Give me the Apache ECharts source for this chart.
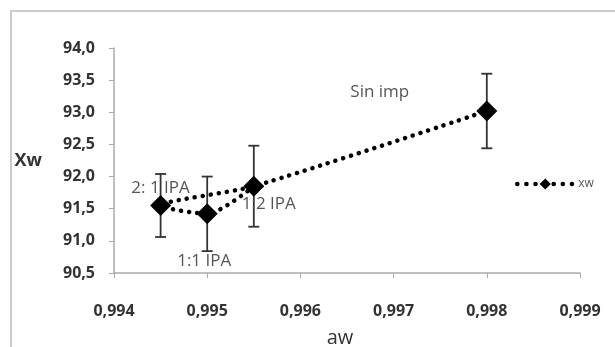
<!DOCTYPE html>
<html>
<head>
<meta charset="utf-8">
<script src="https://cdn.jsdelivr.net/npm/echarts@6/dist/echarts.min.js"></script>
<style>
  html, body { margin: 0; padding: 0; background: #fff; }
  #chart { width: 615px; height: 347px; }
</style>
</head>
<body>
<div id="chart"></div>
<script>
// data
const aw = [0.9945, 0.995, 0.9955, 0.998];
const xw = [91.55, 91.42, 91.85, 93.02];
const xwErr = [0.49, 0.58, 0.63, 0.58];
const pointLabels = ['2: 1 IPA', '1:1 IPA', '1:2 IPA', 'Sin imp'];
const labelOffsets = [[0, -17], [-3, 47], [15, 18], [-107, -19]];
// order the dotted line walks through the points
const pathOrder = [2, 1, 0, 2, 3];
const yTicks = ['90,5', '91,0', '91,5', '92,0', '92,5', '93,0', '93,5', '94,0'];

const chart = echarts.init(document.getElementById('chart'));

const font = 'Open Sans, "DejaVu Sans", sans-serif';
const dotted = { color: '#000', width: 4.5, type: [0.1, 8], cap: 'round' };

chart.setOption({
  animation: false,
  backgroundColor: '#fff',
  graphic: [{
    type: 'rect',
    shape: { x: 11, y: 11, width: 640, height: 360 },
    style: { fill: 'none', stroke: '#bbb', lineWidth: 1.5 },
    silent: true
  }],
  grid: { left: 114, top: 48, right: 35, bottom: 74, outerBoundsMode: 'none' },
  legend: {
    left: 510, top: 173,
    itemWidth: 56, itemHeight: 14, itemGap: 4,
    textStyle: { fontFamily: font, fontSize: 12, color: '#555' },
    data: [{ name: 'xw', lineStyle: Object.assign({ opacity: 1 }, dotted, { type: [0.1, 9] }) }]
  },
  xAxis: {
    type: 'value', min: 0.994, max: 0.999, interval: 0.001,
    name: 'aw', nameLocation: 'middle', nameGap: 55,
    nameTextStyle: { fontFamily: font, fontSize: 20, color: '#333', padding: [0, 14, 0, 0] },
    splitLine: { show: false },
    axisLine: { lineStyle: { color: '#aaa', width: 1.5 } },
    axisTick: { show: true, length: 5, lineStyle: { color: '#aaa' } },
    axisLabel: {
      margin: 30, fontFamily: font, fontSize: 16, fontWeight: 'bold', color: '#333',
      formatter: v => v.toFixed(3).replace('.', ',')
    }
  },
  yAxis: {
    type: 'value', min: 90.5, max: 94, interval: 0.5,
    name: 'Xw', nameLocation: 'middle', nameGap: 72, nameRotate: 0,
    nameTextStyle: { fontFamily: font, fontSize: 18, fontWeight: 'bold', color: '#333', padding: [6, 0, 0, 0] },
    splitLine: { show: false },
    axisLine: { show: true, lineStyle: { color: '#aaa', width: 1.5 } },
    axisTick: { show: true, length: 5, lineStyle: { color: '#aaa' } },
    axisLabel: {
      margin: 19, fontFamily: font, fontSize: 16, fontWeight: 'bold', color: '#333',
      formatter: v => yTicks[Math.round((v - 90.5) / 0.5)]
    }
  },
  series: [
    {
      name: 'xw-path',
      type: 'line',
      data: pathOrder.map(i => [aw[i], xw[i]]),
      showSymbol: false,
      smooth: 0.25,
      lineStyle: dotted,
      silent: true,
      z: 2
    },
    {
      name: 'xw',
      type: 'line',
      data: aw.map((a, i) => ({
        value: [a, xw[i]],
        label: {
          show: true, formatter: pointLabels[i], position: 'inside',
          offset: labelOffsets[i], fontFamily: font, fontSize: 17, color: '#555'
        }
      })),
      symbol: 'diamond',
      symbolSize: [21, 21],
      itemStyle: { color: '#000' },
      lineStyle: Object.assign({}, dotted, { opacity: 0 }),
      z: 4
    },
    {
      name: 'err',
      type: 'custom',
      data: aw.map((a, i) => [a, xw[i] - xwErr[i], xw[i] + xwErr[i]]),
      renderItem: (params, api) => {
        const lo = api.coord([api.value(0), api.value(1)]);
        const hi = api.coord([api.value(0), api.value(2)]);
        const cap = 5.5;
        const st = { stroke: '#333', lineWidth: 1.8 };
        return {
          type: 'group',
          children: [
            { type: 'line', shape: { x1: lo[0], y1: lo[1], x2: hi[0], y2: hi[1] }, style: st },
            { type: 'line', shape: { x1: lo[0] - cap, y1: lo[1], x2: lo[0] + cap, y2: lo[1] }, style: st },
            { type: 'line', shape: { x1: hi[0] - cap, y1: hi[1], x2: hi[0] + cap, y2: hi[1] }, style: st }
          ]
        };
      },
      z: 3
    }
  ]
});
</script>
</body>
</html>
